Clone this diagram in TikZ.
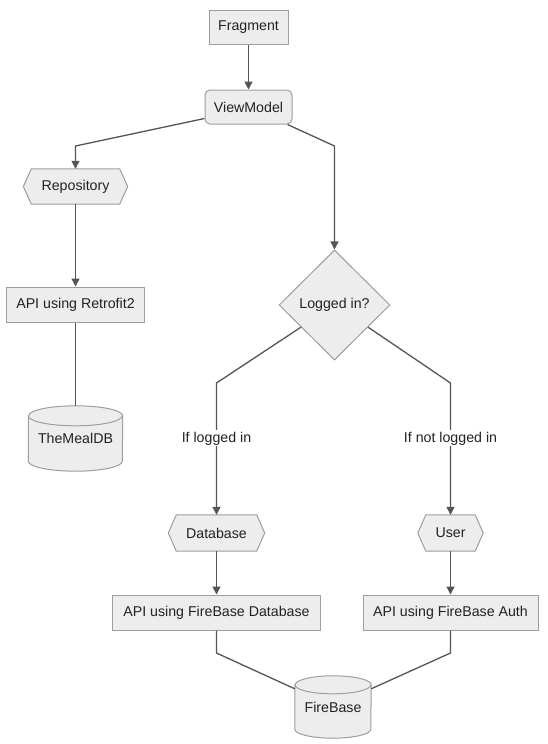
\documentclass[tikz,border=0pt]{standalone}
\usepackage{fontspec}
\setmainfont{Liberation Sans}
\usetikzlibrary{arrows.meta,shapes.geometric,calc,backgrounds}
\definecolor{boxfill}{HTML}{EDEDED}
\definecolor{boxline}{HTML}{9E9E9E}
\definecolor{linkc}{HTML}{555555}
\definecolor{txtc}{HTML}{222222}
\newcommand\drawhexa[1]{%
  \path[boxshape] ([xshift=8pt]#1.north west) -- ([xshift=-8pt]#1.north east) -- (#1.east)
    -- ([xshift=-8pt]#1.south east) -- ([xshift=8pt]#1.south west) -- (#1.west) -- cycle;}
\newcommand\drawcyl[3]{%
  \path[boxshape] ([yshift=-#3]#1.north west) -- ([yshift=#3]#1.south west)
    arc[start angle=180,end angle=360,x radius=#2,y radius=#3]
    -- ([yshift=-#3]#1.north east)
    arc[start angle=0,end angle=180,x radius=#2,y radius=#3] -- cycle;
  \draw[boxborder] ([yshift=-#3]#1.north west) arc[start angle=180,end angle=360,x radius=#2,y radius=#3];}
\begin{document}
\begin{tikzpicture}[x=1pt,y=-1pt,
  font=\fontsize{14.2}{16}\selectfont,
  base/.style={inner sep=0pt, text=txtc, align=center},
  boxborder/.style={draw=boxline, line width=1pt},
  boxshape/.style={boxborder, fill=boxfill},
  box/.style={base, rectangle, boxshape},
  rbox/.style={box, rounded corners=5pt},
  hexa/.style={base, rectangle},
  cyl/.style={base, rectangle},
  dia/.style={base, diamond, boxshape, aspect=1},
  link/.style={draw=linkc, line width=1.3pt},
  arr/.style={link, -{Triangle[length=8pt,width=8pt]}},
  lbl/.style={fill=white, inner sep=1.5pt, text=txtc}]
\useasboundingbox (0,0) rectangle (547,744);

% nodes
\node[box,  minimum width=79pt,  minimum height=34pt] (frag) at (248.5,27) {Fragment};
\node[rbox, minimum width=87pt,  minimum height=34pt] (vm) at (248.5,107) {ViewModel};
\node[hexa, minimum width=104pt, minimum height=35pt] (repo) at (75.5,186.5) {Repository};
\node[box,  minimum width=138pt, minimum height=35pt] (retro) at (75.5,304.5) {API using Retrofit2};
\node[cyl,  minimum width=94pt,  minimum height=65pt] (meal) at (75.5,438.5) {TheMealDB};
\node[dia,  minimum width=111pt, minimum height=110pt] (dec) at (334.5,305) {Logged in?};
\node[hexa, minimum width=96pt,  minimum height=36pt] (dbh) at (216.5,533) {Database};
\node[hexa, minimum width=65pt,  minimum height=36pt] (user) at (450.5,533) {User};
\node[box,  minimum width=208pt, minimum height=35pt] (apidb) at (216.5,612.5) {API using FireBase Database};
\node[box,  minimum width=175pt, minimum height=35pt] (apiauth) at (450.5,612.5) {API using FireBase Auth};
\node[cyl,  minimum width=76pt,  minimum height=62pt] (fb) at (333,707) {FireBase};

\begin{scope}[on background layer]
  \fill[white] (0,0) rectangle (547,744);
  \drawhexa{repo}
  \drawhexa{dbh}
  \drawhexa{user}
  \drawcyl{meal}{47pt}{10pt}
  \drawcyl{fb}{38pt}{9pt}
\end{scope}

% bend points
\coordinate (k1) at (75.5,146);
\coordinate (k2) at (334.5,146);
\coordinate (k3) at (216.5,383);
\coordinate (k4) at (450.5,383);
\coordinate (k5) at (216.5,653);
\coordinate (k6) at (450.5,653);

% connectors
\draw[arr] (frag) -- (vm);
\draw[arr] ($(vm.south west)+(0,-6)$) -- (k1) -- (repo);
\draw[arr] (repo) -- (retro);
\draw[link] (retro) -- (meal);
\draw[arr] ($(vm.south east)+(-5,0)$) -- (k2) -- (dec);
\draw[arr] ($(dec.west)!0.4!(dec.south)$) -- (k3) -- node[lbl, pos=0.42] {If logged in} (dbh);
\draw[arr] ($(dec.east)!0.4!(dec.south)$) -- (k4) -- node[lbl, pos=0.42] {If not logged in} (user);
\draw[arr] (dbh) -- (apidb);
\draw[arr] (user) -- (apiauth);
\draw[link] (apidb) -- (k5) -- ($(fb.north west)+(0,13)$);
\draw[link] (apiauth) -- (k6) -- ($(fb.north east)+(0,13)$);
\end{tikzpicture}
\end{document}
